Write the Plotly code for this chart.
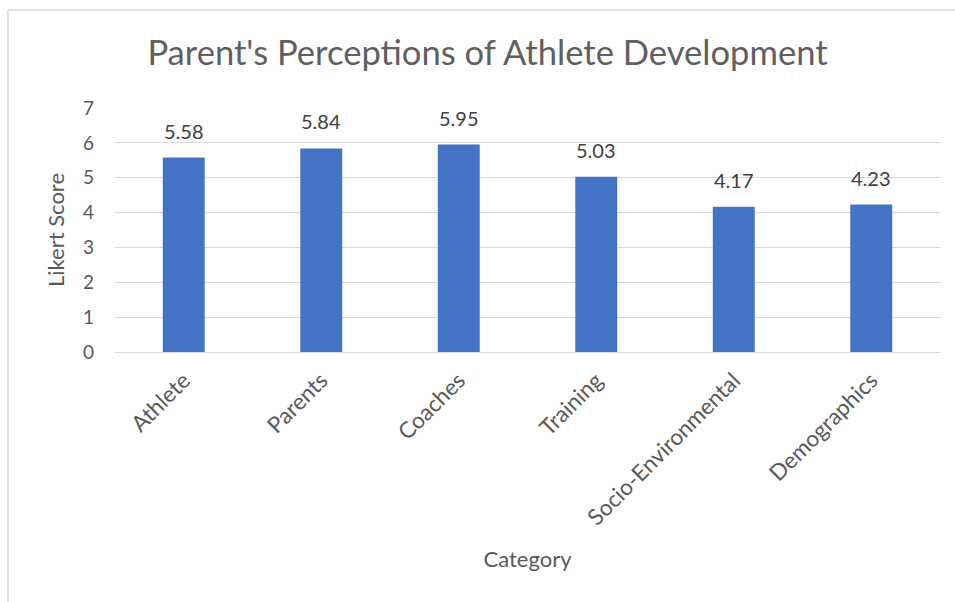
import plotly.graph_objects as go

categories = ["Athlete", "Parents", "Coaches", "Training", "Socio-Environmental", "Demographics"]
scores = [5.58, 5.84, 5.95, 5.03, 4.17, 4.23]

FONT = "Lato, Carlito, sans-serif"
GRAY = "#595959"

L, R, T, B = 115, 15, 108, 250
W, H = 955, 602
PW, PH = W - L - R, H - T - B

fig = go.Figure(go.Bar(
    x=categories, y=scores,
    marker=dict(color="#4472C4", line=dict(width=0)),
    hoverinfo="x+y",
))

for c, v in zip(categories, scores):
    fig.add_annotation(x=c, y=v, text=f"{v:.2f}", showarrow=False,
                       yanchor="bottom", yshift=13,
                       font=dict(family=FONT, size=20, color="#404040"))

fig.update_layout(
    width=W, height=H,
    paper_bgcolor="white", plot_bgcolor="white",
    margin=dict(l=L, r=R, t=T, b=B),
    bargap=0.695,
    showlegend=False,
    title=dict(text="Parent's Perceptions of Athlete Development",
               x=487.5 / W, xanchor="center",
               y=1 - 53 / H, yanchor="middle",
               font=dict(family=FONT, size=34.6, color="#5f5f5f")),
    xaxis=dict(
        tickangle=-45, showgrid=False, showline=False, ticks="",
        ticklabelstandoff=10,
        tickfont=dict(family=FONT, size=22.5, color=GRAY),
        title=dict(text="Category", font=dict(family=FONT, size=22, color=GRAY), standoff=22),
    ),
    yaxis=dict(
        range=[0, 7], dtick=1, showgrid=True, gridcolor="#D9D9D9", gridwidth=1,
        zeroline=True, zerolinecolor="#D9D9D9", zerolinewidth=1,
        ticks="", ticklabelstandoff=20,
        tickfont=dict(family=FONT, size=19, color=GRAY),
        title=dict(text="Likert Score", font=dict(family=FONT, size=22, color=GRAY), standoff=12),
    ),
    shapes=[
        dict(type="line", xref="paper", yref="paper",
             x0=(8 - L) / PW, x1=(8 - L) / PW, y0=(H - B - 10) / PH, y1=-1.2,
             line=dict(color="#D9D9D9", width=1.5)),
        dict(type="line", xref="paper", yref="paper",
             x0=(8 - L) / PW, x1=1.1, y0=(H - B - 10) / PH, y1=(H - B - 10) / PH,
             line=dict(color="#D9D9D9", width=1.5)),
    ],
)

fig.write_html("out.html")
